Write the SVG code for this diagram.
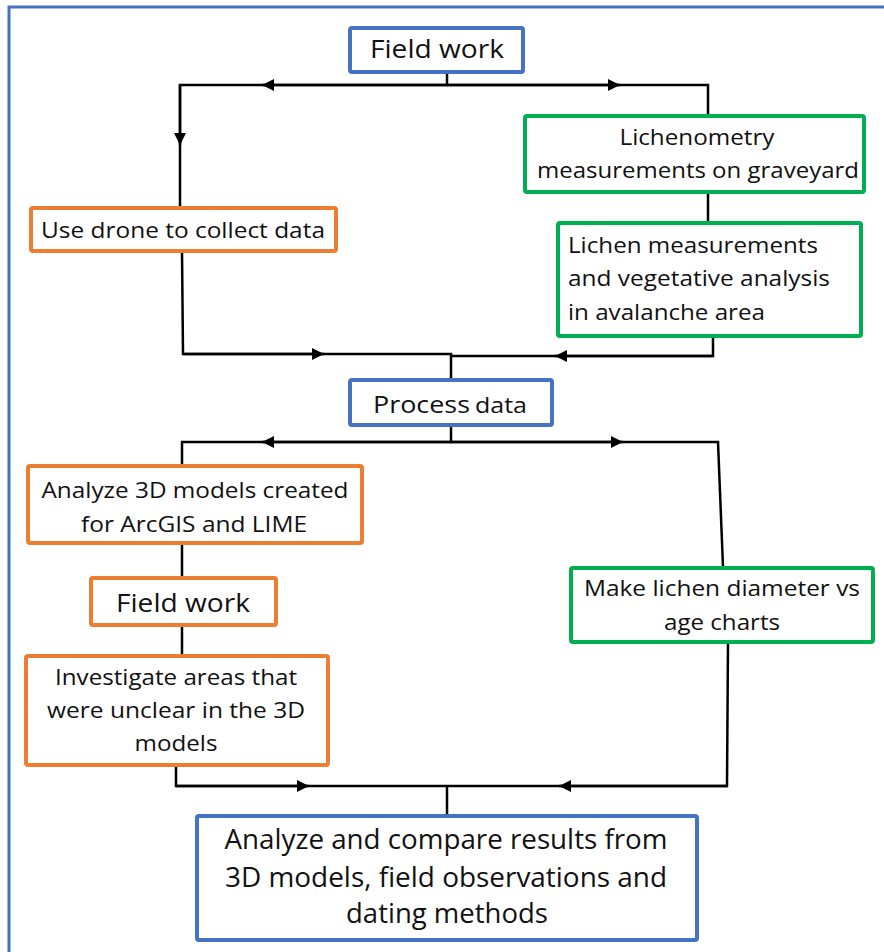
<svg xmlns="http://www.w3.org/2000/svg" width="884" height="952" viewBox="0 0 884 952">
<style>
.box{fill:#fff;stroke-width:4;}
.blue{stroke:#4472C4;}
.orange{stroke:#ED7D31;}
.green{stroke:#00B050;}
.t{font-family:"Open Sans","Liberation Sans",sans-serif;fill:#111;}
.c{stroke:#000;stroke-width:2.5;fill:none;}
.a{marker-end:url(#arr);}
</style>
<defs>
<marker id="arr" markerUnits="userSpaceOnUse" markerWidth="12" markerHeight="12" refX="10" refY="5" orient="auto" viewBox="0 0 10 10">
<path d="M0,0 L10,5 L0,10 z" fill="#000"/>
</marker>
</defs>
<rect x="9" y="7" width="900" height="980" fill="none" stroke="#4472C4" stroke-width="3"/>
<g id="connectors">
<path class="c" d="M447,73 V85 H180 V207"/>
<path class="c" d="M447,85 H708 V116"/>
<path class="c a" d="M447,85 H262"/>
<path class="c a" d="M447,85 H620"/>
<path class="c a" d="M180,85 V145"/>
<path class="c" d="M708,192 V222"/>
<path class="c" d="M182,251 L183,354 H451 V380"/>
<path class="c a" d="M183,354 H324"/>
<path class="c" d="M713,336 V356 H451"/>
<path class="c a" d="M713,356 H555"/>
<path class="c" d="M451,425 V442 H182 V465"/>
<path class="c" d="M451,442 H718 L723,567"/>
<path class="c a" d="M451,442 H262"/>
<path class="c a" d="M451,442 H623"/>
<path class="c" d="M182,543 V577"/>
<path class="c" d="M182,625 V655"/>
<path class="c" d="M176,765 V786 H727 L728,642"/>
<path class="c a" d="M176,786 H309"/>
<path class="c a" d="M728,786 H559"/>
<path class="c" d="M447,786 V815"/>
</g>
<g id="n1">
<rect class="box blue" x="350" y="28" width="173" height="44" rx="2"/>
<text class="t" x="437" y="58" font-size="25" text-anchor="middle" textLength="134" lengthAdjust="spacingAndGlyphs">Field work</text>
</g>
<g id="n2">
<rect class="box green" x="525" y="116" width="339" height="76" rx="2"/>
<text class="t" x="697" y="145" font-size="22" text-anchor="middle" textLength="155" lengthAdjust="spacingAndGlyphs">Lichenometry</text>
<text class="t" x="698" y="178" font-size="22" text-anchor="middle" textLength="322" lengthAdjust="spacingAndGlyphs">measurements on graveyard</text>
</g>
<g id="n3">
<rect class="box green" x="558" y="223" width="303" height="113" rx="2"/>
<text class="t" x="568" y="253" font-size="22" textLength="250" lengthAdjust="spacingAndGlyphs">Lichen measurements</text>
<text class="t" x="568" y="286" font-size="22" textLength="262" lengthAdjust="spacingAndGlyphs">and vegetative analysis</text>
<text class="t" x="568" y="320" font-size="22" textLength="197" lengthAdjust="spacingAndGlyphs">in avalanche area</text>
</g>
<g id="n4">
<rect class="box orange" x="31" y="208" width="305" height="43" rx="2"/>
<text class="t" x="41" y="238" font-size="22" textLength="284" lengthAdjust="spacingAndGlyphs">Use drone to collect data</text>
</g>
<g id="n5">
<rect class="box blue" x="350" y="380" width="202" height="45" rx="2"/>
<text class="t" x="373" y="413" font-size="24" textLength="97" lengthAdjust="spacingAndGlyphs">Process</text>
<text class="t" x="475" y="413" font-size="21" textLength="52" lengthAdjust="spacingAndGlyphs">data</text>
</g>
<g id="n6">
<rect class="box orange" x="28" y="466" width="334" height="77" rx="2"/>
<text class="t" x="195" y="498" font-size="22" text-anchor="middle" textLength="307" lengthAdjust="spacingAndGlyphs">Analyze 3D models created</text>
<text class="t" x="194" y="532" font-size="22" text-anchor="middle" textLength="226" lengthAdjust="spacingAndGlyphs">for ArcGIS and LIME</text>
</g>
<g id="n7">
<rect class="box orange" x="91" y="578" width="185" height="47" rx="2"/>
<text class="t" x="183" y="612" font-size="25" text-anchor="middle" textLength="134" lengthAdjust="spacingAndGlyphs">Field work</text>
</g>
<g id="n8">
<rect class="box orange" x="26" y="656" width="302" height="109" rx="2"/>
<text class="t" x="176" y="685" font-size="22" text-anchor="middle" textLength="242" lengthAdjust="spacingAndGlyphs">Investigate areas that</text>
<text class="t" x="176" y="718" font-size="22" text-anchor="middle" textLength="258" lengthAdjust="spacingAndGlyphs">were unclear in the 3D</text>
<text class="t" x="176" y="751" font-size="22" text-anchor="middle" textLength="83" lengthAdjust="spacingAndGlyphs">models</text>
</g>
<g id="n9">
<rect class="box green" x="571" y="568" width="302" height="74" rx="2"/>
<text class="t" x="722" y="596" font-size="22" text-anchor="middle" textLength="276" lengthAdjust="spacingAndGlyphs">Make lichen diameter vs</text>
<text class="t" x="722" y="630" font-size="22" text-anchor="middle" textLength="116" lengthAdjust="spacingAndGlyphs">age charts</text>
</g>
<g id="n10">
<rect class="box blue" x="197" y="816" width="500" height="124" rx="2"/>
<text class="t" x="446" y="849" font-size="28" text-anchor="middle" textLength="443" lengthAdjust="spacingAndGlyphs">Analyze and compare results from</text>
<text class="t" x="446" y="887" font-size="28" text-anchor="middle" textLength="442" lengthAdjust="spacingAndGlyphs">3D models, field observations and</text>
<text class="t" x="447" y="923" font-size="28" text-anchor="middle" textLength="202" lengthAdjust="spacingAndGlyphs">dating methods</text>
</g>
</svg>
